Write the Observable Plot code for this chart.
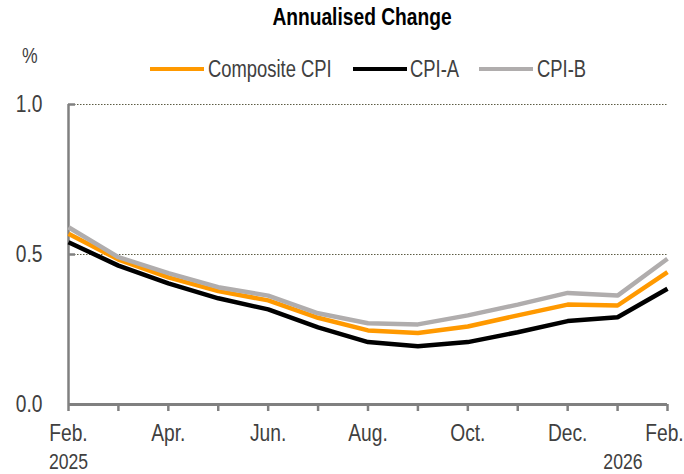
<!DOCTYPE html>
<html><head><meta charset="utf-8">
<script src="https://cdn.jsdelivr.net/npm/d3@7"></script>
<script src="https://cdn.jsdelivr.net/npm/@observablehq/plot@0.6"></script>
<style>
html,body{margin:0;padding:0;background:#fff;}
#wrap{position:relative;width:684px;height:474px;overflow:hidden;font-family:"Liberation Sans",Arial,sans-serif;color:#404040;}
#title{position:absolute;top:3px;left:20px;width:684px;text-align:center;font-weight:bold;font-size:24px;color:#000;transform:scaleX(0.8);transform-origin:342px 0;}
#unit{position:absolute;top:43px;left:22px;font-size:22px;transform:scaleX(0.8);transform-origin:0 0;}
.sw{position:absolute;top:67px;width:54px;height:4px;}
.lt{position:absolute;top:56px;font-size:23px;white-space:nowrap;transform:scaleX(0.8);transform-origin:0 0;}
#plot{position:absolute;left:0;top:0;}
</style></head>
<body>
<div id="wrap">
  <div id="plot"></div>
  <div id="title"></div>
  <div id="unit">%</div>
  <div id="legend"></div>
</div>
<script>
const title = "Annualised Change";
const months = ["Feb.","Mar.","Apr.","May","Jun.","Jul.","Aug.","Sep.","Oct.","Nov.","Dec.","Jan.","Feb."];
const yearLabels = ["2025","","","","","","","","","","","","2026"];
const seriesNames = ["Composite CPI","CPI-A","CPI-B"];
const seriesColors = ["#FF9900","#000000","#B0ADAD"];
const composite = [0.569,0.483,0.424,0.378,0.347,0.289,0.247,0.238,0.260,0.297,0.333,0.330,0.441];
const cpiA      = [0.541,0.463,0.404,0.354,0.317,0.257,0.208,0.194,0.208,0.241,0.278,0.291,0.386];
const cpiB      = [0.591,0.491,0.438,0.391,0.363,0.304,0.271,0.267,0.297,0.333,0.372,0.363,0.486];
const yTicks = [0, 0.5, 1.0];

const seriesValues = [composite, cpiA, cpiB];
const rows = seriesNames.flatMap((name, k) => seriesValues[k].map((v, i) => ({i, v, name})));
const idx = d3.range(months.length);
const lastI = months.length - 1;
const years = idx.filter(i => yearLabels[i]).map(i => ({i, label: yearLabels[i]}));

document.getElementById("title").textContent = title;
const swatchLeft = [150, 353, 479];
const textLeft = [208, 410, 537];
const legend = document.getElementById("legend");
seriesNames.forEach((n, k) => {
  const s = document.createElement("div");
  s.className = "sw";
  s.style.left = swatchLeft[k] + "px";
  s.style.background = seriesColors[k];
  legend.appendChild(s);
  const t = document.createElement("div");
  t.className = "lt";
  t.style.left = textLeft[k] + "px";
  t.textContent = n;
  legend.appendChild(t);
});

const axisColor = "#808080";
const chart = Plot.plot({
  width: 684, height: 474,
  marginTop: 104, marginBottom: 70, marginLeft: 68, marginRight: 17,
  style: {fontFamily: '"Liberation Sans",Arial,sans-serif', fontSize: "24px", color: "#404040", background: "white", overflow: "visible"},
  x: {domain: [0, lastI]},
  y: {domain: [0, 1]},
  color: {domain: seriesNames, range: seriesColors},
  marks: [
    Plot.gridY(yTicks.filter(d => d > 0), {stroke: "#5c5c44", strokeOpacity: 1, strokeWidth: 1, strokeDasharray: "1.5,1.5"}),
    Plot.axisY({ticks: yTicks, tickFormat: d3.format(".1f"), tickSize: -7, tickPadding: 33, stroke: axisColor, strokeWidth: 2.5, label: null, fill: "#404040"}),
    Plot.axisX({ticks: idx, tickFormat: i => (i % 2 === 0 && i !== lastI) ? months[i] : "", tickSize: 7, tickPadding: 12, stroke: axisColor, strokeWidth: 2.5, label: null, fill: "#404040"}),
    Plot.text([lastI], {x: d => d, y: 0, text: d => months[d], dy: 19, dx: -3, lineAnchor: "top", textAnchor: "middle", fill: "#404040"}),
    Plot.ruleX([0], {stroke: axisColor, strokeWidth: 2.5}),
    Plot.ruleY([0], {stroke: axisColor, strokeWidth: 3}),
    Plot.line(rows, {x: "i", y: "v", z: "name", stroke: "name", strokeWidth: 4.5, strokeLinejoin: "miter", strokeLinecap: "butt"}),
    Plot.text(years.filter(d => d.i !== lastI), {x: "i", y: 0, text: "label", dy: 57, fontSize: 22, textAnchor: "middle", fill: "#404040"}),
    Plot.text(years.filter(d => d.i === lastI), {x: "i", y: 0, text: "label", dy: 57, dx: -25, fontSize: 22, textAnchor: "end", fill: "#404040"})
  ]
});
// condense all SVG text horizontally (narrow face like the reference)
chart.querySelectorAll("text").forEach(t => {
  const tr = t.getAttribute("transform") || "";
  t.setAttribute("transform", tr + " scale(0.8,1)");
});
document.getElementById("plot").appendChild(chart);
</script>
</body></html>
